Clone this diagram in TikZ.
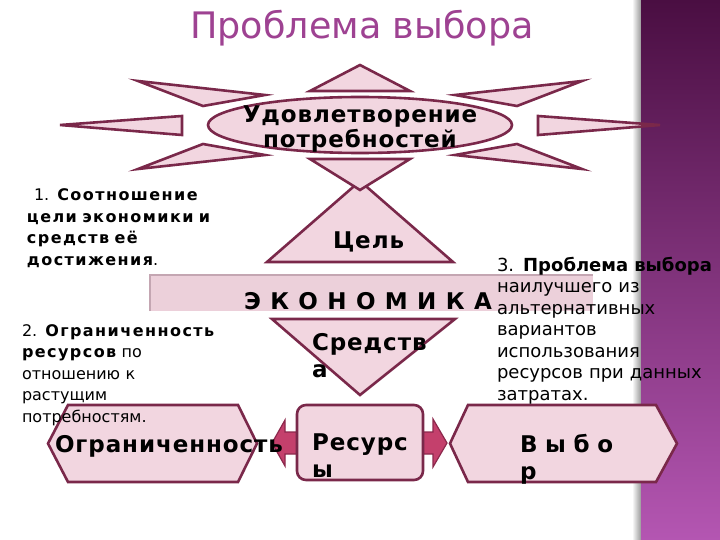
\documentclass[tikz,border=0pt]{standalone}
\usepackage{fontspec}
\setmainfont{DejaVu Sans}
\newfontfamily\bigspaced[LetterSpace=4]{DejaVu Sans}
\newfontfamily\paraspaced[LetterSpace=9]{DejaVu Sans}
\newfontfamily\econspaced[LetterSpace=6]{DejaVu Sans}
\usetikzlibrary{shapes.geometric}
\definecolor{pinkfill}{RGB}{242,214,224}
\definecolor{maroonline}{RGB}{122,40,74}
\definecolor{arrowfill}{RGB}{196,64,108}
\definecolor{arrowline}{RGB}{140,40,76}
\definecolor{titlecol}{RGB}{158,66,146}
\definecolor{bandtop}{RGB}{74,14,66}
\definecolor{bandmid}{RGB}{118,38,108}
\definecolor{bandbot}{RGB}{180,86,178}
\definecolor{ekfill}{RGB}{236,208,218}
\definecolor{ekedge}{RGB}{196,166,178}
\newcommand{\bsptext}[1]{{\paraspaced\bfseries #1}}
\newcommand{\bthirdtext}[1]{{\bfseries #1}}
\tikzset{
  shapebox/.style={fill=pinkfill, draw=maroonline, line width=2.6pt, line join=miter},
  txt/.style={inner sep=0pt, outer sep=0pt},
  para/.style={txt, text width=230pt, align=left, anchor=base west, font=\fontsize{16}{21.6}\selectfont},
  bigfont/.style={font=\fontsize{23}{27.5}\selectfont\bigspaced\bfseries},
  biglab/.style={txt, bigfont, text width=150pt, align=left, anchor=base west},
}
\begin{document}
\begin{tikzpicture}[x=1pt,y=-1pt]
\useasboundingbox (0,0) rectangle (720,540);
\fill[white] (0,0) rectangle (720,540);
% right decorative band
\shade[left color=white, right color=black!40] (632,0) rectangle (641,540);
\shade[top color=bandtop, middle color=bandmid, bottom color=bandbot] (641,0) rectangle (720,540);
% title
\node[txt, anchor=base, text=titlecol, font=\fontsize{36.5}{40}\selectfont] (title) at (362,38.5) {Проблема выбора};
% Goal triangle
\draw[shapebox] (360,181) -- (453,262) -- (267,262) -- cycle;
\node[txt, bigfont, anchor=base west] (goal) at (333,248) {Цель};
% star spikes
\draw[shapebox] (360,65) -- (410,91) -- (310,91) -- cycle;
\draw[shapebox] (360,190) -- (410,159) -- (310,159) -- cycle;
\draw[shapebox] (138,81) -- (203,106) -- (265,95) -- cycle;
\draw[shapebox] (582,81) -- (517,106) -- (455,95) -- cycle;
\draw[shapebox] (138,169) -- (203,144) -- (265,155) -- cycle;
\draw[shapebox] (582,169) -- (517,144) -- (455,155) -- cycle;
\draw[shapebox] (60,125) -- (182,116) -- (182,135) -- cycle;
\draw[shapebox] (660,125) -- (538,116) -- (538,135) -- cycle;
\node[shapebox, ellipse, minimum width=304pt, minimum height=56pt, inner sep=0pt] (need) at (360,125) {};
\node[txt, text width=300pt, align=center, anchor=base, font=\fontsize{23}{25}\selectfont\bigspaced\bfseries] (needtxt) at (360,123) {Удовлетворение\\потребностей};
% economy band
\fill[ekfill] (150,275) rectangle (593,311);
\draw[ekedge, line width=2.5pt] (150,311) -- (150,275) -- (593,275);
\node[txt, anchor=base west, font=\fontsize{23}{24}\selectfont\econspaced\bfseries] (econ) at (244,309) {Э К О Н О М И К А};
% means triangle
\draw[shapebox] (272,319) -- (455,319) -- (360,395) -- cycle;
\node[biglab] (means) at (312,350) {Средств\\а};
% bottom row
\draw[shapebox] (48,443.5) -- (68,405) -- (238,405) -- (257,443.5) -- (238,482) -- (68,482) -- cycle;
\draw[fill=arrowfill, draw=arrowline, line width=1.2pt, line join=miter]
  (272,443) -- (285,420) -- (285,432) -- (433,432) -- (433,419) -- (447,443)
  -- (433,467) -- (433,454) -- (285,454) -- (285,466) -- cycle;
\draw[shapebox, rounded corners=9pt] (297,405) rectangle (423,480);
\draw[shapebox] (450,443.5) -- (468,405) -- (656,405) -- (677,443.5) -- (656,482) -- (468,482) -- cycle;
\node[txt, bigfont, anchor=base west] (limit) at (55,452) {Ограниченность};
\node[biglab] (res) at (312,450) {Ресурс\\ы};
\node[biglab, font=\fontsize{23}{27.5}\selectfont\econspaced\bfseries] (choice) at (520,452) {В ы б о\\р};
% paragraphs
\node[para] (p1) at (27,200.7) {\hspace*{7pt}1. \bsptext{Соотношение}\\\bsptext{цели экономики и}\\\bsptext{средств её}\\\bsptext{достижения}.};
\node[para] (p2) at (22,336) {2. \bsptext{Ограниченность}\\\bsptext{ресурсов} по\\отношению к\\растущим\\потребностям.};
\node[para, font=\fontsize{18}{21.5}\selectfont] (p3) at (497,271) {3. \bthirdtext{Проблема выбора}\\наилучшего из\\альтернативных\\вариантов\\использования\\ресурсов при данных\\затратах.};
\end{tikzpicture}
\end{document}
